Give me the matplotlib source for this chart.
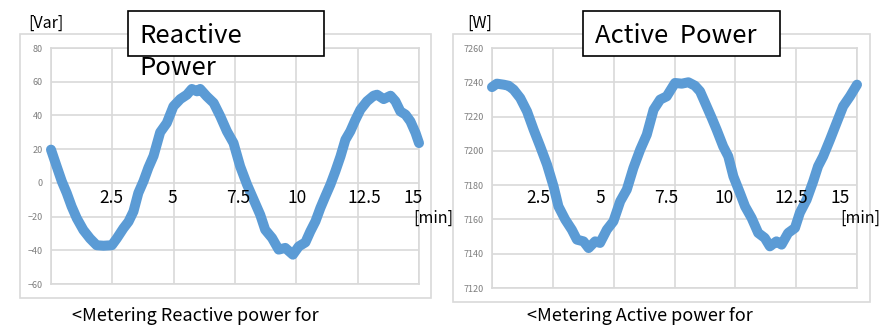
import matplotlib.pyplot as plt
from matplotlib.patches import Rectangle

plt.rcParams['font.family'] = ['Noto Sans CJK KR', 'DejaVu Sans']

# time axis shared by both meters [min]
t_q = [0, 0.23, 0.44, 0.64, 0.84, 1.05, 1.32, 1.59, 1.86, 2.14, 2.48, 2.68, 2.95,
       3.16, 3.36, 3.56, 3.77, 3.97, 4.18, 4.45, 4.72, 4.99, 5.27, 5.54, 5.74,
       5.95, 6.08, 6.35, 6.63, 6.90, 7.17, 7.44, 7.71, 7.99, 8.26, 8.53, 8.73,
       9.01, 9.28, 9.55, 9.86, 10.1, 10.37, 10.57, 10.78, 10.98, 11.18, 11.39,
       11.59, 11.80, 12.0, 12.2, 12.41, 12.61, 12.88, 13.15, 13.29, 13.56, 13.84,
       14.04, 14.24, 14.45, 14.65, 14.86, 15.0]
q_var = [19.7, 9.8, 0.9, -6, -14, -21, -28, -33, -37, -37.3, -37, -33, -27,
         -23, -17, -6, 1, 9, 16, 30, 35.5, 45.4, 49.7, 52.3, 55.7,
         54.3, 55.7, 51.3, 47.4, 39.5, 30.6, 23.6, 9.8, -1, -10, -19, -27.8,
         -32.7, -39.6, -38.6, -42.6, -37.7, -35.3, -28.8, -22.8, -14.9, -8, -1,
         6.8, 15.7, 25.6, 30.6, 37.5, 43.4, 48.4, 51.7, 52.3, 49.7, 51.7,
         48.4, 42.4, 40.5, 36.5, 29.6, 23.6]

t_p = [0, 0.2, 0.48, 0.68, 0.89, 1.16, 1.44, 1.71, 1.98, 2.26, 2.53, 2.73, 3.01,
       3.28, 3.49, 3.76, 3.97, 4.24, 4.44, 4.72, 4.99, 5.27, 5.54, 5.81, 6.09,
       6.36, 6.64, 6.91, 7.18, 7.52, 7.80, 8.07, 8.34, 8.55, 8.82, 9.03, 9.23,
       9.5, 9.71, 9.92, 10.19, 10.4, 10.67, 10.94, 11.21, 11.42, 11.69, 11.90,
       12.17, 12.45, 12.65, 12.93, 13.2, 13.4, 13.61, 13.89, 14.16, 14.43,
       14.71, 15.0]
p_w = [7237.2, 7239.2, 7238.6, 7238, 7235.7, 7230.8, 7223, 7212.4, 7202.6, 7192,
       7179.3, 7167.6, 7159.9, 7154, 7148.2, 7147.2, 7143.3, 7147.2, 7146.3,
       7154, 7158.9, 7170.6, 7177.4, 7190, 7200.7, 7209.4, 7224, 7229.9, 7231.8,
       7239.6, 7239.2, 7240, 7238, 7234.7, 7226, 7219.2, 7212.4, 7202.6, 7196.8,
       7185.1, 7175.4, 7167.6, 7160.8, 7152.1, 7149.2, 7144.3, 7147.2, 7145.3,
       7152.1, 7155, 7163.8, 7171.5, 7182.2, 7191, 7196.8, 7206.5, 7216.3,
       7226, 7231.8, 7238.6]

min_labels = ['2.5', '5', '7.5', '10', '12.5', '15']

W, H = 890, 331
fig = plt.figure(figsize=(W / 100, H / 100), dpi=100)
BLUE = '#5B9BD5'
GRID = '#d9d9d9'


def fx(px):
    return px / W


def fy(py):
    return 1 - py / H


def panel(box, rect, t, v, ylim, yticks, lbl_x, lbl_y):
    x0, y0, x1, y1 = box
    fig.patches.append(Rectangle((fx(x0), fy(y1)), fx(x1 - x0), (y1 - y0) / H,
                                 transform=fig.transFigure, fill=False,
                                 edgecolor=GRID, lw=1.2))
    l, t0, r, b = rect
    ax = fig.add_axes([fx(l), fy(b), fx(r - l), (b - t0) / H])
    ax.plot(t, v, color=BLUE, lw=7.2, solid_capstyle='round',
            solid_joinstyle='round', zorder=3, clip_on=False)
    ax.set_xlim(0, 15)
    ax.set_ylim(*ylim)
    ax.set_xticks([0, 2.5, 5, 7.5, 10, 12.5, 15])
    ax.set_yticks(yticks)
    ax.set_xticklabels([])
    ax.grid(True, color=GRID, lw=1.2)
    ax.set_axisbelow(True)
    for s in ax.spines.values():
        s.set_color(GRID)
        s.set_linewidth(1.2)
    ax.tick_params(length=0, labelsize=6.5, labelcolor='#7f7f7f', pad=6)
    for x, s in zip(lbl_x, min_labels):
        ax.text(x, lbl_y, s, ha='center', va='center', fontsize=12.5, zorder=4)
    return ax


panel((20, 34, 431, 298), (51, 48, 419, 284), t_q, q_var,
      (-60, 80), range(-60, 81, 20),
      [2.45, 4.96, 7.63, 10.02, 12.78, 14.78], -9)
panel((453, 34, 870, 302), (492, 48, 857, 288), t_p, p_w,
      (7120, 7260), range(7120, 7261, 20),
      [1.9, 4.44, 7.14, 9.53, 12.31, 14.29], 7172.5)

# title boxes
for x0, x1 in [(128, 324), (583, 780)]:
    fig.patches.append(Rectangle((fx(x0), fy(56)), fx(x1 - x0), 45 / H,
                                 transform=fig.transFigure, facecolor='white',
                                 edgecolor='black', lw=1.2, zorder=5))
fig.text(fx(139), fy(43), 'Reactive', fontsize=18.5, va='baseline', zorder=6)
fig.text(fx(139), fy(75), 'Power', fontsize=18.5, va='baseline', zorder=6)
fig.text(fx(595), fy(43), 'Active  Power', fontsize=18.5, va='baseline', zorder=6)

# units and captions
fig.text(fx(28), fy(23), '[Var]', fontsize=11.5, va='center')
fig.text(fx(467), fy(23), '[W]', fontsize=11.5, va='center')
fig.text(fx(413), fy(218), '[min]', fontsize=11.5, va='center')
fig.text(fx(840), fy(218), '[min]', fontsize=11.5, va='center')
fig.text(fx(72), fy(316), '<Metering Reactive power for', fontsize=13, va='center')
fig.text(fx(527), fy(316), '<Metering Active power for', fontsize=13, va='center')

fig.savefig('out.png', dpi=100)
